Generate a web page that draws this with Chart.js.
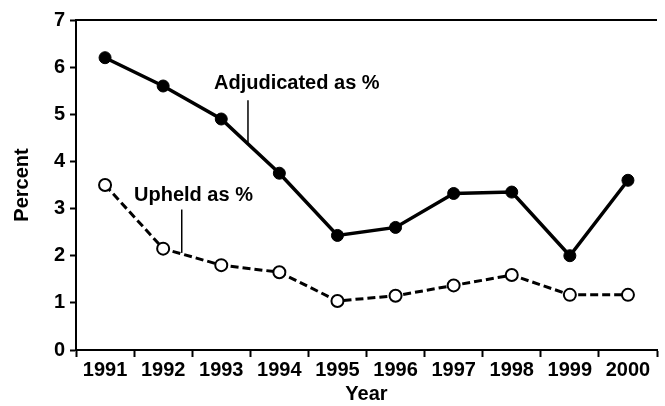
<!DOCTYPE html>
<html>
<head>
<meta charset="utf-8">
<script src="https://cdn.jsdelivr.net/npm/chart.js@4.4.1/dist/chart.umd.min.js"></script>
<style>
    html, body { margin: 0; padding: 0; background: #fff; }
    #wrap { width: 665px; height: 406px; position: relative; }
</style>
</head>
<body>
<div id="wrap"><canvas id="chart"></canvas></div>
<script>
const years = ['1991', '1992', '1993', '1994', '1995', '1996', '1997', '1998', '1999', '2000'];
const adjudicated = [6.2, 5.6, 4.9, 3.75, 2.43, 2.6, 3.32, 3.35, 2.0, 3.6];
const upheld = [3.5, 2.15, 1.8, 1.65, 1.04, 1.15, 1.37, 1.59, 1.17, 1.17];
const yTicks = [0, 1, 2, 3, 4, 5, 6, 7];

const FONT = "'Liberation Sans', Arial, sans-serif";

// callout labels with short leader lines, placed by category index / value
const callouts = [
    { text: 'Adjudicated as %', tx: 214, ty: 83, lineAt: 2.46, from: 5.3, to: 4.4 },
    { text: 'Upheld as %', tx: 134, ty: 195, lineAt: 1.32, from: 2.98, to: 2.06 },
];

const calloutPlugin = {
    id: 'callouts',
    afterDatasetsDraw(chart) {
        const { ctx, scales } = chart;
        ctx.save();
        ctx.fillStyle = '#000';
        ctx.strokeStyle = '#000';
        ctx.lineWidth = 1.5;
        ctx.font = `bold 20px ${FONT}`;
        ctx.textBaseline = 'middle';
        callouts.forEach((c) => {
            ctx.fillText(c.text, c.tx, c.ty);
            const x = scales.x.getPixelForValue(c.lineAt);
            ctx.beginPath();
            ctx.moveTo(x, scales.y.getPixelForValue(c.from));
            ctx.lineTo(x, scales.y.getPixelForValue(c.to));
            ctx.stroke();
        });
        // top frame line
        ctx.lineWidth = 2;
        ctx.beginPath();
        ctx.moveTo(chart.chartArea.left, chart.chartArea.top);
        ctx.lineTo(chart.chartArea.right, chart.chartArea.top);
        ctx.stroke();
        ctx.restore();
    },
};

new Chart(document.getElementById('chart'), {
    type: 'line',
    data: {
        labels: years,
        datasets: [
            {
                label: 'Adjudicated as %',
                data: adjudicated,
                borderColor: '#000',
                backgroundColor: '#000',
                borderWidth: 3.5,
                pointRadius: 6,
                pointBackgroundColor: '#000',
                pointBorderColor: '#000',
                pointBorderWidth: 1,
                tension: 0,
            },
            {
                label: 'Upheld as %',
                data: upheld,
                borderColor: '#000',
                borderWidth: 3,
                borderDash: [8, 4],
                pointRadius: 6,
                pointBackgroundColor: '#fff',
                pointBorderColor: '#000',
                pointBorderWidth: 2,
                tension: 0,
            },
        ],
    },
    options: {
        responsive: true,
        maintainAspectRatio: false,
        animation: false,
        layout: { padding: { top: 20, right: 0, left: 0, bottom: 0 } },
        plugins: {
            legend: { display: false },
            tooltip: { enabled: false },
        },
        scales: {
            x: {
                offset: true,
                grid: {
                    offset: true,
                    drawOnChartArea: false,
                    color: '#000',
                    tickColor: '#000',
                    tickLength: 7,
                    tickWidth: 2,
                },
                border: { color: '#000', width: 2 },
                ticks: { color: '#000', font: { family: FONT, size: 20, weight: 'bold' }, padding: 1, maxRotation: 0 },
                title: { display: true, text: 'Year', color: '#000', font: { family: FONT, size: 20, weight: 'bold' }, padding: { top: 0, bottom: 0 } },
                afterFit(s) { s.height = 56; },
            },
            y: {
                min: 0,
                max: 7,
                afterBuildTicks(s) { s.ticks = yTicks.map((v) => ({ value: v })); },
                grid: {
                    drawOnChartArea: false,
                    color: '#000',
                    tickColor: '#000',
                    tickLength: 6,
                    tickWidth: 2,
                },
                border: { color: '#000', width: 2 },
                ticks: { color: '#000', font: { family: FONT, size: 20, weight: 'bold' }, padding: 5 },
                title: { display: true, text: 'Percent', color: '#000', font: { family: FONT, size: 20, weight: 'bold' }, padding: { top: 10, bottom: 0 } },
                afterFit(s) { s.width = 76; },
            },
        },
    },
    plugins: [calloutPlugin],
});
</script>
</body>
</html>
